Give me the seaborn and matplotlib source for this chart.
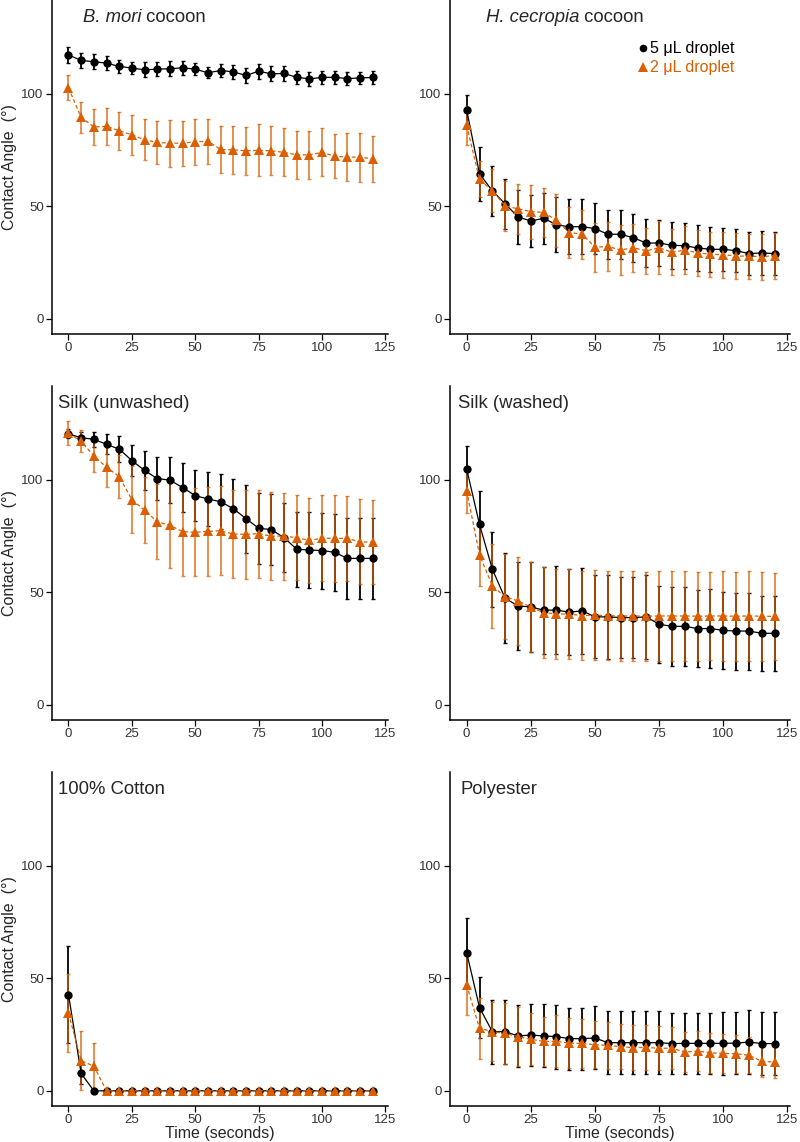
import pandas as pd
import matplotlib
matplotlib.use("Agg")
import matplotlib.pyplot as plt
from matplotlib.lines import Line2D
import seaborn as sns


# Sampling times (seconds)
time = list(range(0, 125, 5))

# B. mori cocoon
bmori_5 = [117.3, 114.9, 114.3, 113.7, 112.2, 111.5, 110.7, 111.0, 111.2, 111.6, 111.0, 109.4, 110.4,
           109.8, 108.2, 110.1, 108.9, 109.1, 107.4, 106.7, 107.3, 107.4, 106.8, 107.1, 107.3]
bmori_5_sd = [3.6, 3.4, 3.3, 3.0, 3.0, 2.8, 3.3, 3.0, 3.3, 3.2, 2.8, 2.5, 2.8,
              3.0, 3.3, 3.4, 3.3, 3.3, 3.0, 3.0, 2.8, 2.8, 2.8, 2.5, 2.8]
bmori_2 = [102.7, 89.6, 85.3, 85.6, 83.6, 81.8, 79.6, 78.4, 78.1, 78.1, 78.7, 79.0, 75.3,
           75.1, 74.7, 74.9, 74.7, 74.0, 72.9, 72.9, 74.0, 72.3, 71.9, 71.9, 71.1]
bmori_2_sd = [5.5, 7.0, 8.2, 8.3, 8.5, 8.8, 9.2, 9.7, 10.5, 10.0, 10.1, 10.0, 10.5,
              10.6, 10.7, 11.5, 10.9, 10.7, 10.6, 10.6, 10.7, 9.8, 10.7, 10.9, 10.3]

# H. cecropia cocoon
cecropia_5 = [92.9, 64.5, 56.9, 51.1, 45.3, 43.5, 44.7, 41.8, 40.9, 41.0, 40.1, 37.6, 37.6,
              36.0, 33.7, 33.7, 32.7, 32.5, 31.5, 30.9, 30.9, 30.3, 29.0, 29.3, 29.0]
cecropia_5_sd = [6.5, 12.0, 11.0, 11.1, 11.9, 11.6, 11.4, 12.3, 12.3, 12.3, 11.5, 10.8, 11.0,
                 10.7, 10.5, 10.2, 10.5, 10.3, 10.1, 9.9, 9.7, 9.6, 9.5, 9.7, 9.6]
cecropia_2 = [86.0, 62.1, 56.9, 50.2, 48.9, 47.7, 47.3, 43.8, 38.3, 37.7, 31.8, 32.2, 30.6,
              31.6, 30.2, 31.6, 29.6, 30.5, 29.4, 28.7, 28.5, 27.9, 27.9, 27.6, 28.1]
cecropia_2_sd = [8.5, 8.0, 9.5, 11.0, 11.2, 12.0, 11.0, 11.7, 11.2, 10.9, 11.0, 11.0, 10.9,
                 10.6, 10.4, 11.7, 10.3, 10.7, 10.2, 10.0, 10.3, 10.1, 10.0, 10.2, 10.2]

# Silk (unwashed)
unwashed_5 = [120.5, 118.7, 118.1, 115.8, 113.7, 108.6, 104.2, 100.6, 99.9, 96.6, 93.0, 91.5, 90.3,
              87.2, 82.8, 78.5, 77.9, 74.3, 69.2, 68.8, 68.6, 67.8, 65.1, 65.1, 65.1]
unwashed_5_sd = [2.0, 2.5, 3.3, 4.5, 5.6, 7.0, 8.5, 9.4, 10.2, 10.8, 11.4, 11.9, 12.3,
                 13.2, 15.1, 15.7, 15.8, 15.4, 16.6, 16.9, 16.9, 17.1, 18.0, 18.0, 18.0]
unwashed_2 = [120.8, 117.1, 110.7, 105.6, 101.5, 91.2, 86.5, 81.4, 79.8, 77.0, 76.7, 77.1, 77.4,
              75.9, 75.8, 76.1, 75.0, 75.0, 74.3, 73.1, 74.1, 74.0, 74.0, 72.4, 72.4]
unwashed_2_sd = [5.2, 4.9, 7.2, 8.9, 9.4, 15.0, 14.6, 16.6, 19.0, 19.6, 19.6, 19.9, 19.9,
                 19.7, 19.7, 19.6, 19.5, 19.3, 19.0, 19.0, 19.1, 19.5, 19.0, 18.9, 18.7]

# Silk (washed)
washed_5 = [104.9, 80.2, 60.3, 47.3, 44.0, 43.5, 42.1, 42.1, 41.2, 41.8, 39.1, 39.1, 38.8,
            38.8, 39.1, 35.8, 34.9, 34.9, 33.9, 33.9, 33.1, 32.8, 32.8, 31.8, 31.8]
washed_5_sd = [10.0, 15.0, 16.7, 20.0, 19.5, 19.8, 19.3, 19.5, 19.1, 19.2, 18.4, 18.6, 18.2,
               18.2, 18.6, 17.1, 17.6, 17.6, 17.2, 17.4, 17.2, 17.1, 17.1, 16.7, 16.7]
washed_2 = [95.2, 66.7, 52.9, 48.0, 46.2, 43.5, 41.0, 40.4, 40.3, 39.7, 39.8, 39.7, 39.5,
            39.5, 39.4, 39.5, 39.5, 39.5, 39.4, 39.5, 39.5, 39.4, 39.5, 39.4, 39.3]
washed_2_sd = [9.8, 14.0, 18.6, 18.9, 19.5, 19.8, 20.3, 20.0, 20.0, 19.8, 20.0, 19.9, 20.0,
               20.0, 19.8, 19.8, 19.9, 19.8, 19.8, 19.7, 19.8, 19.7, 19.8, 19.7, 19.5]

# 100% Cotton
cotton_5 = [42.8, 7.7, 0.0, 0.0, 0.0, 0.0, 0.0, 0.0, 0.0, 0.0, 0.0, 0.0, 0.0,
            0.0, 0.0, 0.0, 0.0, 0.0, 0.0, 0.0, 0.0, 0.0, 0.0, 0.0, 0.0]
cotton_5_sd = [21.5, 4.6, 0.0, 0.0, 0.0, 0.0, 0.0, 0.0, 0.0, 0.0, 0.0, 0.0, 0.0,
               0.0, 0.0, 0.0, 0.0, 0.0, 0.0, 0.0, 0.0, 0.0, 0.0, 0.0, 0.0]
cotton_2 = [34.5, 13.4, 11.0, 0.0, 0.0, 0.0, 0.0, 0.0, 0.0, 0.0, 0.0, 0.0, 0.0,
            0.0, 0.0, 0.0, 0.0, 0.0, 0.0, 0.0, 0.0, 0.0, 0.0, 0.0, 0.0]
cotton_2_sd = [17.4, 13.2, 10.2, 0.0, 0.0, 0.0, 0.0, 0.0, 0.0, 0.0, 0.0, 0.0, 0.0,
               0.0, 0.0, 0.0, 0.0, 0.0, 0.0, 0.0, 0.0, 0.0, 0.0, 0.0, 0.0]

# Polyester
poly_5 = [61.4, 37.0, 26.3, 26.3, 24.4, 24.8, 24.4, 24.1, 23.2, 23.2, 23.5, 21.4, 21.4,
          21.4, 21.4, 21.4, 21.0, 21.1, 21.1, 21.1, 21.1, 21.2, 21.7, 21.0, 21.0]
poly_5_sd = [15.4, 13.5, 14.3, 14.3, 13.7, 13.7, 14.0, 14.2, 13.8, 13.8, 14.0, 13.9, 13.9,
             13.9, 13.9, 13.9, 13.6, 13.6, 13.6, 13.6, 13.9, 13.9, 14.3, 13.9, 13.9]
poly_2 = [47.1, 27.8, 26.3, 25.6, 24.1, 22.9, 22.0, 22.0, 21.2, 21.1, 20.5, 20.2, 19.6,
          19.2, 19.3, 18.9, 19.0, 17.2, 17.7, 16.9, 16.6, 16.5, 15.8, 13.1, 12.8]
poly_2_sd = [13.5, 13.6, 13.0, 13.5, 13.0, 11.5, 11.0, 11.5, 11.0, 11.0, 10.5, 10.5, 10.0,
             10.0, 10.0, 9.8, 9.5, 9.0, 9.0, 8.8, 8.8, 8.5, 8.0, 6.8, 7.0]


ORANGE = "#D95F02"

sns.set_theme(style="ticks")
plt.rcParams["font.family"] = ["Liberation Sans", "DejaVu Sans"]

fig = plt.figure(figsize=(8, 11.42), dpi=100)

W, H = 800, 1142


def add_panel(left_px, top_px, width_px, height_px=334):
    return fig.add_axes([
        left_px / W,
        1 - (top_px + height_px) / H,
        width_px / W,
        height_px / H
    ])


# (title parts, 5 uL mean, sd, 2 uL mean, sd, title x, left column, bottom row)
panels = [
    (("B. mori", " cocoon"), bmori_5, bmori_5_sd, bmori_2, bmori_2_sd, 0.092, True, False),
    (("H. cecropia", " cocoon"), cecropia_5, cecropia_5_sd, cecropia_2, cecropia_2_sd, 0.106, False, False),
    ((None, "Silk (unwashed)"), unwashed_5, unwashed_5_sd, unwashed_2, unwashed_2_sd, 0.018, True, False),
    ((None, "Silk (washed)"), washed_5, washed_5_sd, washed_2, washed_2_sd, 0.024, False, False),
    ((None, "100% Cotton"), cotton_5, cotton_5_sd, cotton_2, cotton_2_sd, 0.018, True, True),
    ((None, "Polyester"), poly_5, poly_5_sd, poly_2, poly_2_sd, 0.032, False, True),
]

tops = [0, 386, 772]

for i, (title, m5, s5, m2, s2, tx, is_left, is_bottom) in enumerate(panels):

    row = i // 2

    if is_left:
        ax = add_panel(52, tops[row], 336)
    else:
        ax = add_panel(450, tops[row], 340)

    # Error bars first, points and lines on top
    ax.errorbar(
        time, m5, yerr=s5,
        fmt="none", ecolor="black",
        elinewidth=1.3, capsize=1.6, capthick=1.0,
        zorder=2
    )

    ax.errorbar(
        time, m2, yerr=s2,
        fmt="none", ecolor=ORANGE, alpha=0.75,
        elinewidth=1.3, capsize=1.6, capthick=1.0,
        zorder=2
    )

    df = pd.DataFrame({
        "time": time + time,
        "angle": list(m5) + list(m2),
        "droplet": ["5"] * len(time) + ["2"] * len(time)
    })

    sns.lineplot(
        data=df,
        x="time",
        y="angle",
        hue="droplet",
        style="droplet",
        palette={"5": "black", "2": ORANGE},
        markers={"5": "o", "2": "^"},
        dashes={"5": "", "2": (3, 2)},
        markersize=6,
        markeredgewidth=0,
        linewidth=0.9,
        errorbar=None,
        legend=False,
        ax=ax,
        zorder=3
    )

    # triangles a touch larger than the circles
    for line in ax.lines:
        if line.get_marker() == "^":
            line.set_markersize(7)

    ax.set_xlim(-6.5, 126)
    ax.set_ylim(-6.75, 141.75)
    ax.set_xticks([0, 25, 50, 75, 100, 125])
    ax.set_yticks([0, 50, 100])

    sns.despine(ax=ax)

    for side in ["left", "bottom"]:
        ax.spines[side].set_linewidth(1.1)
        ax.spines[side].set_color("black")

    ax.tick_params(
        length=4, width=0.9, color="black",
        labelsize=9.5, labelcolor="#333333", pad=2
    )

    if is_left:
        ax.set_ylabel("Contact Angle  (°)", fontsize=11.5, labelpad=3)
    else:
        ax.set_ylabel("")

    if is_bottom:
        ax.set_xlabel("Time (seconds)", fontsize=11.5, labelpad=0)
    else:
        ax.set_xlabel("")

    # Panel title, part of it in italics
    italic, plain = title
    if italic is None:
        ax.text(tx, 0.949, plain, transform=ax.transAxes,
                fontsize=13.3, va="center", ha="left")
    else:
        t1 = ax.text(tx, 0.949, italic, transform=ax.transAxes,
                     fontsize=13.3, style="italic", va="center", ha="left")
        ax.annotate(plain, xy=(1, 0), xycoords=t1,
                    fontsize=13.3, va="bottom", ha="left")

    # Legend only in the H. cecropia panel
    if i == 1:
        handles = [
            Line2D([], [], marker="o", color="black", linestyle="none",
                   markersize=5.5, markeredgewidth=0),
            Line2D([], [], marker="^", color=ORANGE, linestyle="none",
                   markersize=6.5, markeredgewidth=0),
        ]
        ax.legend(
            handles,
            ["5 μL droplet", "2 μL droplet"],
            labelcolor=["black", ORANGE],
            frameon=False,
            fontsize=11.5,
            handlelength=0.5,
            handletextpad=0.15,
            labelspacing=0.25,
            borderaxespad=0,
            loc="upper right",
            bbox_to_anchor=(0.855, 0.895)
        )

fig.savefig("out.png", dpi=100)
